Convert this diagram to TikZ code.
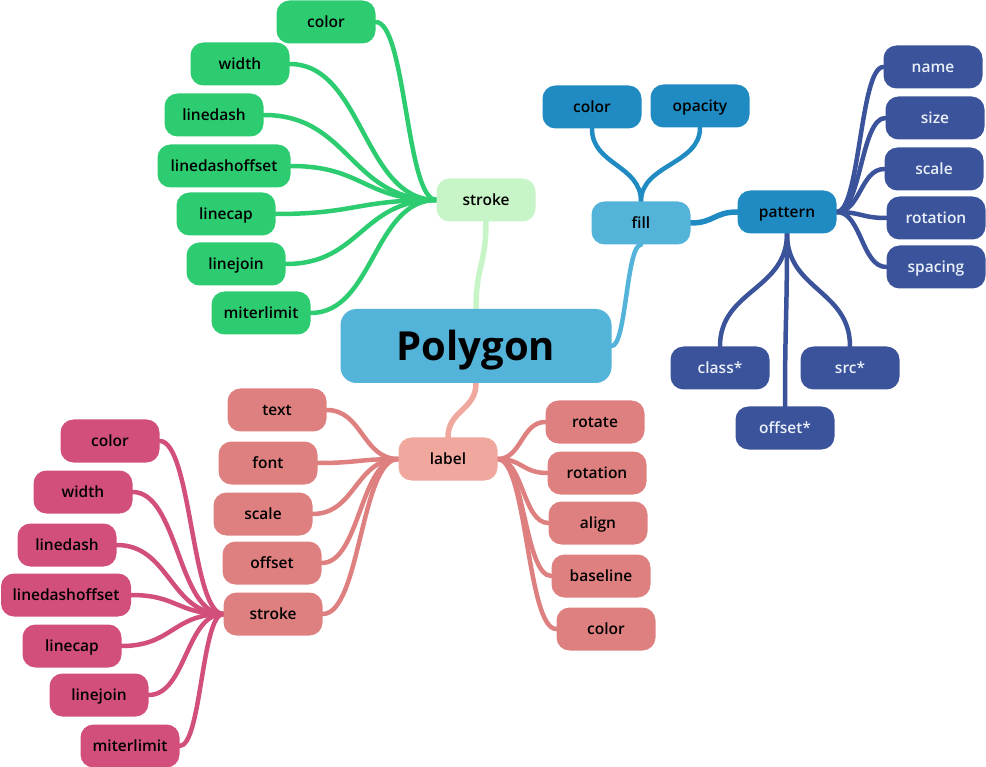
\documentclass[tikz,border=0pt]{standalone}
\usepackage{fontspec}
\setmainfont{Open Sans}
\newfontfamily\semib{Open Sans Semibold}
\usetikzlibrary{calc,backgrounds}
\definecolor{cgreen}{HTML}{2ECC71}
\definecolor{clgreen}{HTML}{C8F5C8}
\definecolor{cpoly}{HTML}{54B3D9}
\definecolor{cfillc}{HTML}{1F8BC2}
\definecolor{cpat}{HTML}{3B539B}
\definecolor{cpattext}{HTML}{EAF0FA}
\definecolor{clabel}{HTML}{F0A89E}
\definecolor{clabc}{HTML}{DF8080}
\definecolor{cred}{HTML}{D14F7A}
\newcommand\hcurve[3]{\draw[#1] let \p1=(#2), \p2=(#3) in (\p1) .. controls ({(\x1+\x2)/2},\y1) and ({(\x1+\x2)/2},\y2) .. (\p2);}
\newcommand\vcurve[3]{\draw[#1] let \p1=(#2), \p2=(#3) in (\p1) .. controls (\x1,{(\y1+\y2)/2}) and (\x2,{(\y1+\y2)/2}) .. (\p2);}
\begin{document}
\begin{tikzpicture}[x=1pt,y=-1pt,
  box/.style={rounded corners=13pt, minimum width=99pt, minimum height=43pt, inner sep=0pt,
    text height=11.5pt, text depth=0pt,
    font=\semib\fontsize{15.5}{18}\selectfont, text=black},
  gbox/.style={box, fill=cgreen},
  lgbox/.style={box, fill=clgreen},
  fbox/.style={box, fill=cpoly},
  fcbox/.style={box, fill=cfillc},
  pbox/.style={box, fill=cpat, text=cpattext},
  labbox/.style={box, fill=clabel},
  lcbox/.style={box, fill=clabc},
  rbox/.style={box, fill=cred},
  lk/.style={line width=4.5pt, line cap=round}]
\useasboundingbox (0,0) rectangle (986,767);
\node[rounded corners=16pt, minimum width=271pt, minimum height=74pt, inner sep=0pt, fill=cpoly,
  text height=30pt, text depth=0pt,
  font=\bfseries\fontsize{40}{46}\selectfont] (poly) at (476,346) {Polygon};
% green stroke branch
\node[lgbox] (gstroke) at (486,200) {stroke};
\node[gbox] (gcolor) at (326,22) {color};
\node[gbox] (gwidth) at (240,64) {width};
\node[gbox] (glinedash) at (214,115) {linedash};
\node[gbox, minimum width=133pt] (glinedashoffset) at (224,166) {linedashoffset};
\node[gbox] (glinecap) at (226,214) {linecap};
\node[gbox] (glinejoin) at (236,264) {linejoin};
\node[gbox] (gmiterlimit) at (261,313) {miterlimit};
% fill branch
\node[fbox] (fill) at (641,223) {fill};
\node[fcbox] (fcolor) at (592,107) {color};
\node[fcbox] (fopacity) at (700,106) {opacity};
\node[fcbox] (pattern) at (787,212) {pattern};
\node[pbox] (pname) at (933,67) {name};
\node[pbox] (psize) at (935,118) {size};
\node[pbox] (pscale) at (934,169) {scale};
\node[pbox] (protation) at (936,218) {rotation};
\node[pbox] (pspacing) at (936,267) {spacing};
\node[pbox] (pclass) at (720,368) {class*};
\node[pbox] (psrc) at (850,368) {src*};
\node[pbox] (poffset) at (785,428) {offset*};
% label branch
\node[labbox] (label) at (448,459) {label};
\node[lcbox] (ltext) at (277,410) {text};
\node[lcbox] (lfont) at (268,463) {font};
\node[lcbox] (lscale) at (263,514) {scale};
\node[lcbox] (loffset) at (272,563) {offset};
\node[lcbox] (lstroke) at (273,614) {stroke};
\node[lcbox] (lrotate) at (595,422) {rotate};
\node[lcbox] (lrotation) at (597,473) {rotation};
\node[lcbox] (lalign) at (598,523) {align};
\node[lcbox] (lbaseline) at (601,576) {baseline};
\node[lcbox] (lcolor) at (606,629) {color};
\node[rbox] (rcolor) at (110,441) {color};
\node[rbox] (rwidth) at (83,492) {width};
\node[rbox] (rlinedash) at (67,545) {linedash};
\node[rbox, minimum width=130pt] (rlinedashoffset) at (66,595) {linedashoffset};
\node[rbox] (rlinecap) at (72,646) {linecap};
\node[rbox] (rlinejoin) at (99,695) {linejoin};
\node[rbox] (rmiterlimit) at (130,746) {miterlimit};
\begin{pgfonlayer}{background}
\vcurve{lk, clgreen, line width=5.5pt}{poly.north}{gstroke.south}
\hcurve{lk, cpoly}{poly.east}{fill.south}
\vcurve{lk, clabel, line width=5.5pt}{poly.south}{label.north}
\foreach \c in {gcolor,gwidth,glinedash,glinedashoffset,glinecap,glinejoin,gmiterlimit}
  {\hcurve{lk, cgreen}{\c.east}{gstroke.west}}
\vcurve{lk, cfillc}{fill.north}{fcolor.south}
\vcurve{lk, cfillc}{fill.north}{fopacity.south}
\hcurve{lk, cfillc, line width=5.5pt}{fill.east}{pattern.west}
\foreach \c in {pname,psize,pscale,protation,pspacing}
  {\hcurve{lk, cpat}{pattern.east}{\c.west}}
\foreach \c in {pclass,psrc,poffset}
  {\vcurve{lk, cpat}{pattern.south}{\c.north}}
\foreach \c in {ltext,lfont,lscale,loffset,lstroke}
  {\hcurve{lk, clabc}{\c.east}{label.west}}
\foreach \c in {lrotate,lrotation,lalign,lbaseline,lcolor}
  {\hcurve{lk, clabc}{label.east}{\c.west}}
\foreach \c in {rcolor,rwidth,rlinedash,rlinedashoffset,rlinecap,rlinejoin,rmiterlimit}
  {\hcurve{lk, cred}{\c.east}{lstroke.west}}
\end{pgfonlayer}
\end{tikzpicture}
\end{document}
